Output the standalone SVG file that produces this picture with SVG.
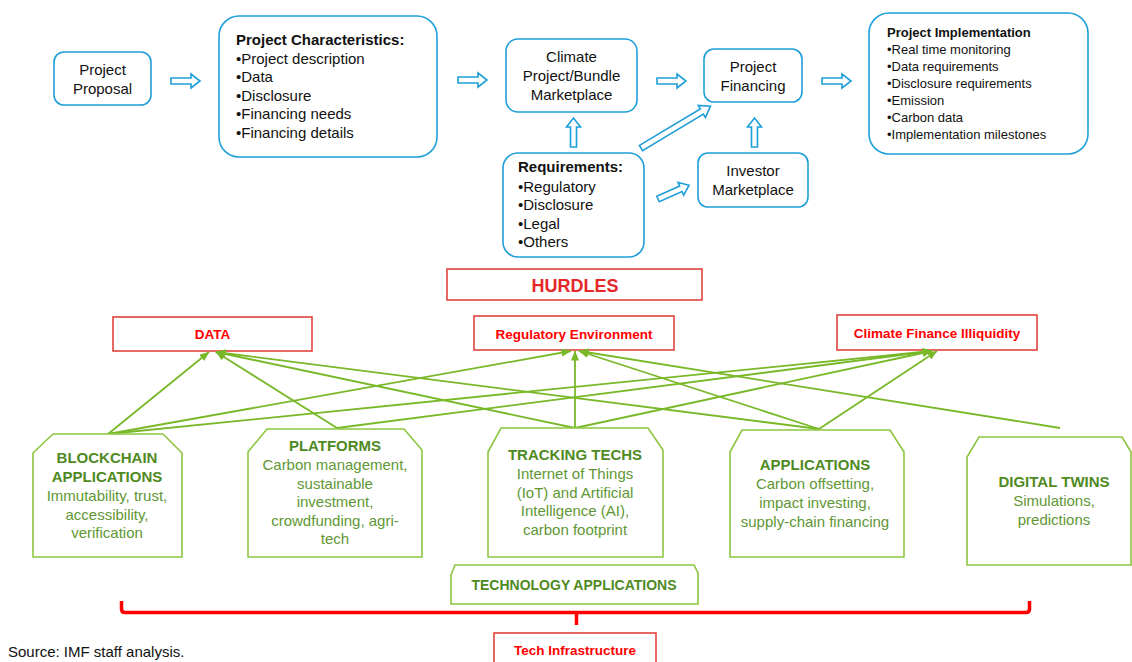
<svg xmlns="http://www.w3.org/2000/svg" width="1132" height="662" viewBox="0 0 1132 662">
  <defs>
    <style>
      text { font-family: "Liberation Sans", Arial, sans-serif; }
      .bbox { fill: #ffffff; stroke: #1f9fd9; stroke-width: 1.6; }
      .barrow { fill: #ffffff; stroke: #1f9fd9; stroke-width: 1.6; stroke-linejoin: miter; }
      .t15 { font-size: 15px; fill: #111111; }
      .t13 { font-size: 13px; fill: #111111; }
      .b15 { font-size: 15px; font-weight: bold; fill: #111111; }
      .b13 { font-size: 13px; font-weight: bold; fill: #111111; }
      .mid { text-anchor: middle; }
      .rbox { fill: #ffffff; stroke: #e2443c; stroke-width: 1.6; }
      .rtxt { font-size: 13.5px; font-weight: bold; fill: #ff0000; text-anchor: middle; }
      .gbox { fill: #ffffff; stroke: #8cc63f; stroke-width: 1.6; }
      .gtitle { font-size: 15px; font-weight: bold; fill: #4f8a1f; text-anchor: middle; }
      .gtxt { font-size: 15px; fill: #5f9735; text-anchor: middle; }
      .link { fill: none; stroke: #79b829; stroke-width: 1.8; marker-end: url(#ah); }
    </style>
    <marker id="ah" viewBox="0 0 10 8" refX="9.5" refY="4" markerWidth="10" markerHeight="8" markerUnits="userSpaceOnUse" orient="auto">
      <path d="M0,0 L10,4 L0,8 Z" fill="#79b829"/>
    </marker>
    <path id="arr29" d="M0,-3 H20 V-7 L29,0 L20,7 V3 H0 Z"/>
  </defs>

  <rect width="1132" height="662" fill="#ffffff"/>

  <!-- project flow: blue rounded boxes -->
  <g id="project-proposal">
    <rect class="bbox" x="54" y="52" width="97" height="53" rx="10"/>
    <text class="t15 mid" x="102.5" y="75">Project</text>
    <text class="t15 mid" x="102.5" y="94">Proposal</text>
  </g>

  <g id="project-characteristics">
    <rect class="bbox" x="219" y="16" width="218" height="141" rx="20"/>
    <text class="b15" x="236" y="45">Project Characteristics:</text>
    <text class="t15" x="236" y="63.5">•Project description</text>
    <text class="t15" x="236" y="82">•Data</text>
    <text class="t15" x="236" y="100.5">•Disclosure</text>
    <text class="t15" x="236" y="119">•Financing needs</text>
    <text class="t15" x="236" y="137.5">•Financing details</text>
  </g>

  <g id="climate-marketplace">
    <rect class="bbox" x="506" y="39" width="131" height="73" rx="12"/>
    <text class="t15 mid" x="571.5" y="62">Climate</text>
    <text class="t15 mid" x="571.5" y="81">Project/Bundle</text>
    <text class="t15 mid" x="571.5" y="99.5">Marketplace</text>
  </g>

  <g id="project-financing">
    <rect class="bbox" x="704" y="49" width="98" height="53" rx="10"/>
    <text class="t15 mid" x="753" y="72">Project</text>
    <text class="t15 mid" x="753" y="90.5">Financing</text>
  </g>

  <g id="project-implementation">
    <rect class="bbox" x="869" y="13" width="219" height="141" rx="20"/>
    <text class="b13" x="887" y="37">Project Implementation</text>
    <text class="t13" x="887" y="54">•Real time monitoring</text>
    <text class="t13" x="887" y="71">•Data requirements</text>
    <text class="t13" x="887" y="88">•Disclosure requirements</text>
    <text class="t13" x="887" y="104.5">•Emission</text>
    <text class="t13" x="887" y="121.5">•Carbon data</text>
    <text class="t13" x="887" y="138.5">•Implementation milestones</text>
  </g>

  <g id="requirements">
    <rect class="bbox" x="503" y="153" width="141" height="104" rx="15"/>
    <text class="b15" x="518" y="172">Requirements:</text>
    <text class="t15" x="518" y="192">•Regulatory</text>
    <text class="t15" x="518" y="210">•Disclosure</text>
    <text class="t15" x="518" y="228.5">•Legal</text>
    <text class="t15" x="518" y="247">•Others</text>
  </g>

  <g id="investor-marketplace">
    <rect class="bbox" x="698" y="153" width="110" height="54" rx="10"/>
    <text class="t15 mid" x="753" y="176">Investor</text>
    <text class="t15 mid" x="753" y="194.5">Marketplace</text>
  </g>

  <!-- hollow block arrows of the project flow -->
  <g id="flow-arrows">
    <use href="#arr29" class="barrow" transform="translate(171,81)"/>
    <use href="#arr29" class="barrow" transform="translate(458,80)"/>
    <use href="#arr29" class="barrow" transform="translate(657,81)"/>
    <use href="#arr29" class="barrow" transform="translate(822,81)"/>
    <use href="#arr29" class="barrow" transform="translate(573.5,147) rotate(-90)"/>
    <use href="#arr29" class="barrow" transform="translate(754.5,147) rotate(-90)"/>
    <path class="barrow" d="M0,-3 H71 V-7 L81,0 L71,7 V3 H0 Z" transform="translate(641,148) rotate(-31)"/>
    <path class="barrow" d="M0,-3 H25 V-7 L34,0 L25,7 V3 H0 Z" transform="translate(658,199) rotate(-24)"/>
  </g>

  <!-- hurdles -->
  <g id="hurdles">
    <rect class="rbox" x="447" y="269" width="255" height="31"/>
    <text x="575" y="291.5" text-anchor="middle" font-size="18" font-weight="bold" fill="#e5282a">HURDLES</text>
  </g>
  <g id="hurdle-data">
    <rect class="rbox" x="113" y="317" width="199" height="34"/>
    <text class="rtxt" x="212.5" y="339">DATA</text>
  </g>
  <g id="hurdle-regulatory">
    <rect class="rbox" x="474" y="316" width="200" height="34"/>
    <text class="rtxt" x="574" y="338.5">Regulatory Environment</text>
  </g>
  <g id="hurdle-illiquidity">
    <rect class="rbox" x="837" y="315" width="200" height="35"/>
    <text class="rtxt" x="937" y="338">Climate Finance Illiquidity</text>
  </g>

  <!-- technology-to-hurdle connectors -->
  <g id="connectors">
    <line class="link" x1="108" y1="434" x2="209" y2="352"/>
    <line class="link" x1="108" y1="434" x2="571" y2="351"/>
    <line class="link" x1="108" y1="434" x2="932" y2="351"/>
    <line class="link" x1="337" y1="428" x2="216" y2="352"/>
    <line class="link" x1="337" y1="428" x2="932" y2="351"/>
    <line class="link" x1="575" y1="428" x2="216" y2="352"/>
    <line class="link" x1="575" y1="428" x2="575" y2="351"/>
    <line class="link" x1="575" y1="428" x2="932" y2="351"/>
    <line class="link" x1="819" y1="429" x2="216" y2="352"/>
    <line class="link" x1="819" y1="429" x2="579" y2="351"/>
    <line class="link" x1="819" y1="429" x2="937" y2="351"/>
    <line class="link" x1="1060" y1="428" x2="579" y2="351"/>
  </g>

  <!-- technology applications -->
  <g id="tech-blockchain">
    <polygon class="gbox" points="33,453 53,434 163,434 182,453 182,557 33,557"/>
    <text class="gtitle" x="107" y="463">BLOCKCHAIN</text>
    <text class="gtitle" x="107" y="482">APPLICATIONS</text>
    <text class="gtxt" x="107" y="501">Immutability, trust,</text>
    <text class="gtxt" x="107" y="519.5">accessibility,</text>
    <text class="gtxt" x="107" y="537.5">verification</text>
  </g>
  <g id="tech-platforms">
    <polygon class="gbox" points="248,452 267,429 404,429 422,450 422,557 248,557"/>
    <text class="gtitle" x="335" y="451">PLATFORMS</text>
    <text class="gtxt" x="335" y="470">Carbon management,</text>
    <text class="gtxt" x="335" y="488.5">sustainable</text>
    <text class="gtxt" x="335" y="507">investment,</text>
    <text class="gtxt" x="335" y="526">crowdfunding, agri-</text>
    <text class="gtxt" x="335" y="544">tech</text>
  </g>
  <g id="tech-tracking">
    <polygon class="gbox" points="488,452 501,428 648,428 663,450 663,557 488,557"/>
    <text class="gtitle" x="575" y="460">TRACKING TECHS</text>
    <text class="gtxt" x="575" y="479">Internet of Things</text>
    <text class="gtxt" x="575" y="497.5">(IoT) and Artificial</text>
    <text class="gtxt" x="575" y="516">Intelligence (AI),</text>
    <text class="gtxt" x="575" y="534.5">carbon footprint</text>
  </g>
  <g id="tech-applications">
    <polygon class="gbox" points="730,452 742,430 890,430 904,452 904,557 730,557"/>
    <text class="gtitle" x="815" y="470">APPLICATIONS</text>
    <text class="gtxt" x="815" y="489">Carbon offsetting,</text>
    <text class="gtxt" x="815" y="508">impact investing,</text>
    <text class="gtxt" x="815" y="526.5">supply-chain financing</text>
  </g>
  <g id="tech-digital-twins">
    <polygon class="gbox" points="967,457 979,437 1122,437 1131,452 1131,565 967,565"/>
    <text class="gtitle" x="1054" y="487">DIGITAL TWINS</text>
    <text class="gtxt" x="1054" y="506">Simulations,</text>
    <text class="gtxt" x="1054" y="524.5">predictions</text>
  </g>
  <g id="technology-applications">
    <polygon class="gbox" points="451,575 455,565 694,565 698,573 698,604 451,604"/>
    <text x="574" y="590" text-anchor="middle" font-size="14" font-weight="bold" fill="#4f8a1f">TECHNOLOGY APPLICATIONS</text>
  </g>

  <!-- infrastructure bracket -->
  <g id="infrastructure-bracket">
    <path d="M121.5,601 V609 Q121.5,612.5 125,612.5 H1026 Q1029.5,612.5 1029.5,609 V601 M576.5,612.5 V625" fill="none" stroke="#ff0000" stroke-width="3.5"/>
  </g>
  <g id="tech-infrastructure">
    <rect class="rbox" x="494" y="633" width="162" height="40"/>
    <text class="rtxt" x="575" y="655">Tech Infrastructure</text>
  </g>

  <text id="source" x="8" y="657" font-size="15" fill="#111111">Source: IMF staff analysis.</text>
</svg>
